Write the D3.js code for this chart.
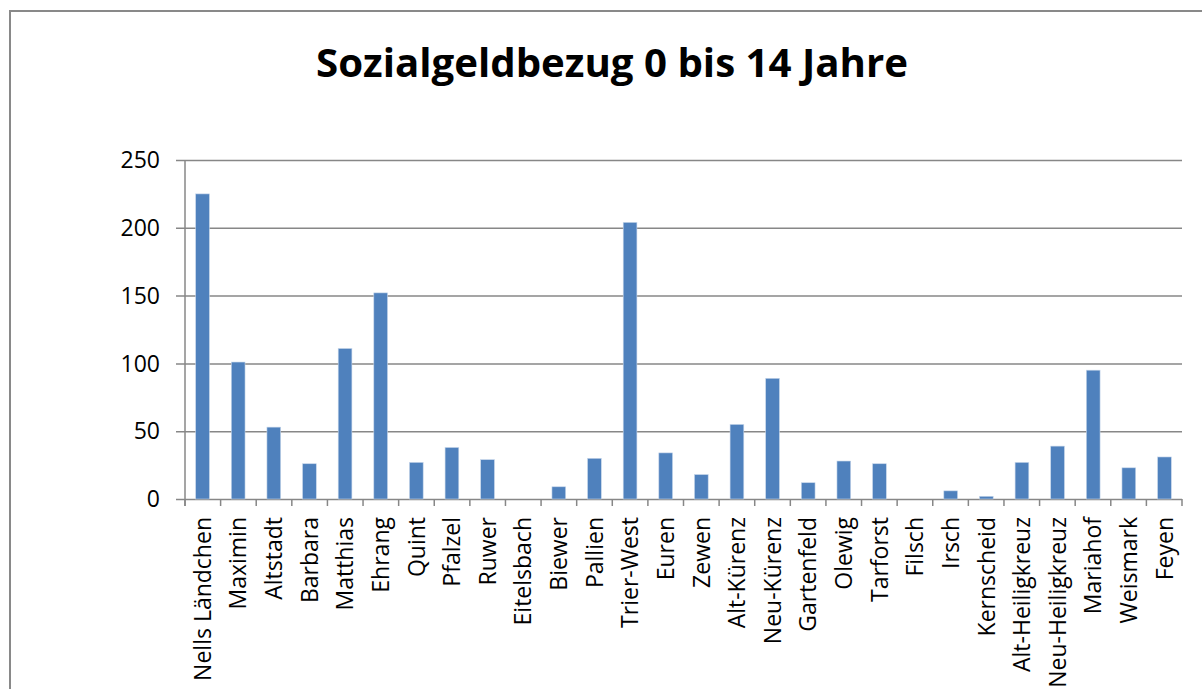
<!DOCTYPE html>
<html><head><meta charset="utf-8">
<script src="https://cdn.jsdelivr.net/npm/d3@7"></script>
<style>body{margin:0;background:#fff}svg{display:block}</style>
</head><body>
<script>
const title = "Sozialgeldbezug 0 bis 14 Jahre";
const categories = ["Nells Ländchen","Maximin","Altstadt","Barbara","Matthias","Ehrang","Quint","Pfalzel","Ruwer","Eitelsbach","Biewer","Pallien","Trier-West","Euren","Zewen","Alt-Kürenz","Neu-Kürenz","Gartenfeld","Olewig","Tarforst","Filsch","Irsch","Kernscheid","Alt-Heiligkreuz","Neu-Heiligkreuz","Mariahof","Weismark","Feyen"];
const values = [225,101,53,26,111,152,27,38,29,0,9,30,204,34,18,55,89,12,28,26,0,6,2,27,39,95,23,31];
const yTicks = [0,50,100,150,200,250];

const W = 1202, H = 689;
const svg = d3.select("body").append("svg").attr("width", W).attr("height", H);
const font = "'Open Sans', sans-serif";

svg.append("rect").attr("x", 10).attr("y", 11).attr("width", W + 20).attr("height", H + 20)
  .attr("fill", "#fff").attr("stroke", "#898989").attr("stroke-width", 2);

svg.append("text").attr("x", 612).attr("y", 77).attr("text-anchor", "middle")
  .attr("font-family", font).attr("font-weight", "bold").attr("font-size", 39)
  .attr("textLength", 592).attr("lengthAdjust", "spacingAndGlyphs")
  .attr("fill", "#000").text(title);

const x0 = 185, x1 = 1182, yTop = 160, yBot = 499;
const x = d3.scaleBand().domain(categories).range([x0, x1]).paddingInner(0.615).paddingOuter(0.3);
const y = d3.scaleLinear().domain([0, 250]).range([yBot, yTop]);

// gridlines
svg.append("g").selectAll("line").data(yTicks).join("line")
  .attr("x1", 176).attr("x2", x1).attr("y1", d => y(d) + 0.5).attr("y2", d => y(d) + 0.5)
  .attr("stroke", "#878787").attr("stroke-width", 1.5);

// y axis line
svg.append("line").attr("x1", x0).attr("x2", x0).attr("y1", yTop).attr("y2", yBot + 7)
  .attr("stroke", "#878787").attr("stroke-width", 1.5);

// x ticks
const step = (x1 - x0) / categories.length;
svg.append("g").selectAll("line").data(d3.range(categories.length + 1)).join("line")
  .attr("x1", i => x0 + i * step).attr("x2", i => x0 + i * step)
  .attr("y1", yBot).attr("y2", yBot + 7)
  .attr("stroke", "#878787").attr("stroke-width", 1.5);

// y labels
svg.append("g").selectAll("text").data(yTicks).join("text")
  .attr("x", 160).attr("y", d => y(d)).attr("dy", "0.36em").attr("text-anchor", "end")
  .attr("font-family", font).attr("font-size", 23).attr("fill", "#000").text(d => d);

// bars
svg.append("g").selectAll("rect").data(values).join("rect")
  .attr("x", (d, i) => x(categories[i])).attr("width", x.bandwidth())
  .attr("y", d => y(d)).attr("height", d => yBot - y(d))
  .attr("fill", "#4F81BD").attr("stroke", "#c6d6ea").attr("stroke-width", 0.6);

// x labels
svg.append("g").selectAll("text").data(categories).join("text")
  .attr("transform", d => `translate(${x(d) + x.bandwidth() / 2},517) rotate(-90)`)
  .attr("dy", "0.36em").attr("text-anchor", "end")
  .attr("font-family", font).attr("font-size", 23).attr("fill", "#000").text(d => d);
</script>
</body></html>
